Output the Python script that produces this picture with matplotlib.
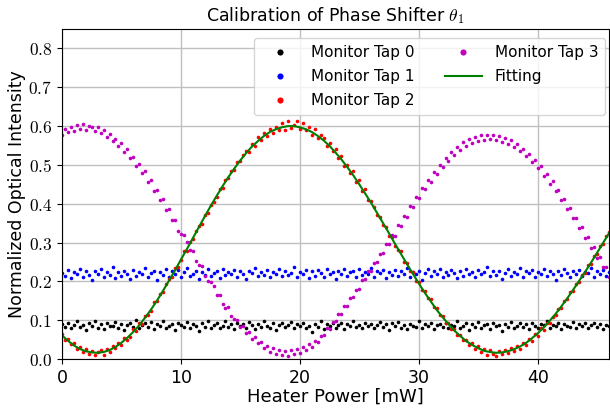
import numpy as np
import matplotlib
matplotlib.use("Agg")
import matplotlib.pyplot as plt
from matplotlib.ticker import FixedLocator, FuncFormatter

plt.rcParams['font.family'] = ['DejaVu Sans']
plt.rcParams['mathtext.fontset'] = 'cm'

# Heater power grid (mW)
heater_power = np.arange(0, 46.001, 0.25)
fit_power = np.arange(0, 46.001, 0.5)

tap0 = [
    0.091,0.083,0.094,0.079,0.087,0.097,0.082,0.088,0.076,0.092,
    0.085,0.099,0.081,0.089,0.077,0.093,0.086,0.084,0.096,0.080,
    0.090,0.075,0.088,0.094,0.083,0.101,0.079,0.087,0.092,0.082,
    0.095,0.078,0.089,0.084,0.098,0.081,0.086,0.091,0.076,0.093,
    0.087,0.082,0.096,0.080,0.090,0.085,0.072,0.092,0.083,0.097,
    0.079,0.088,0.094,0.081,0.086,0.099,0.082,0.089,0.077,0.093,
    0.084,0.090,0.080,0.095,0.087,0.078,0.091,0.083,0.098,0.085,
    0.081,0.092,0.076,0.088,0.094,0.082,0.087,0.096,0.079,0.090,
    0.084,0.093,0.080,0.086,0.070,0.091,0.083,0.097,0.078,0.089,
    0.085,0.094,0.081,0.087,0.092,0.077,0.090,0.084,0.099,0.082,
    0.088,0.079,0.093,0.085,0.091,0.080,0.087,0.096,0.083,0.089,
    0.076,0.092,0.084,0.095,0.081,0.088,0.078,0.091,0.086,0.083,
    0.097,0.080,0.089,0.085,0.093,0.077,0.087,0.090,0.082,0.094,
    0.079,0.088,0.084,0.098,0.081,0.086,0.092,0.075,0.089,0.083,
    0.095,0.080,0.087,0.091,0.078,0.093,0.084,0.088,0.071,0.090,
    0.082,0.096,0.079,0.086,0.092,0.083,0.089,0.077,0.094,0.085,
    0.081,0.090,0.087,0.097,0.080,0.088,0.084,0.093,0.078,0.091,
    0.086,0.082,0.095,0.079,0.089,0.085,0.092,0.081,0.087,0.094,
    0.083,0.090,0.078,0.088,0.085,
]

tap1 = [
    0.222,0.213,0.229,0.208,0.224,0.218,0.231,0.211,0.226,0.216,
    0.204,0.227,0.219,0.233,0.212,0.225,0.217,0.236,0.209,0.223,
    0.215,0.228,0.220,0.206,0.230,0.214,0.225,0.219,0.234,0.210,
    0.221,0.227,0.203,0.224,0.216,0.232,0.212,0.226,0.218,0.229,
    0.211,0.223,0.235,0.214,0.220,0.228,0.207,0.225,0.217,0.231,
    0.213,0.222,0.227,0.209,0.233,0.216,0.224,0.219,0.230,0.212,
    0.226,0.218,0.205,0.228,0.221,0.234,0.214,0.223,0.217,0.229,
    0.210,0.225,0.220,0.232,0.213,0.227,0.216,0.222,0.236,0.211,
    0.224,0.219,0.230,0.208,0.226,0.215,0.229,0.221,0.212,0.233,
    0.218,0.225,0.206,0.228,0.220,0.231,0.214,0.223,0.227,0.210,
    0.232,0.217,0.224,0.219,0.235,0.212,0.226,0.221,0.229,0.208,
    0.223,0.216,0.230,0.213,0.227,0.220,0.234,0.211,0.225,0.218,
    0.228,0.204,0.222,0.231,0.215,0.226,0.219,0.233,0.212,0.224,
    0.217,0.229,0.221,0.209,0.227,0.214,0.232,0.220,0.225,0.211,
    0.230,0.218,0.223,0.236,0.213,0.226,0.216,0.228,0.207,0.222,
    0.231,0.215,0.225,0.219,0.234,0.212,0.227,0.221,0.229,0.210,
    0.224,0.218,0.232,0.214,0.226,0.220,0.203,0.228,0.216,0.233,
    0.222,0.211,0.227,0.219,0.230,0.214,0.225,0.221,0.235,0.212,
    0.226,0.218,0.229,0.215,0.223,
]

tap2 = [
    0.064,0.050,0.052,0.038,0.041,0.027,0.030,0.019,0.025,0.013,
    0.021,0.010,0.019,0.024,0.011,0.026,0.019,0.033,0.028,0.041,
    0.036,0.053,0.049,0.058,0.077,0.072,0.093,0.091,0.112,0.113,
    0.124,0.146,0.149,0.168,0.172,0.194,0.205,0.211,0.234,0.238,
    0.254,0.277,0.279,0.302,0.308,0.329,0.343,0.349,0.371,0.376,
    0.398,0.405,0.418,0.437,0.441,0.462,0.466,0.484,0.487,0.507,
    0.509,0.526,0.537,0.532,0.555,0.549,0.571,0.563,0.581,0.574,
    0.593,0.581,0.597,0.589,0.609,0.590,0.612,0.596,0.604,0.614,
    0.592,0.607,0.590,0.598,0.578,0.592,0.570,0.576,0.569,0.548,
    0.557,0.535,0.541,0.517,0.522,0.498,0.501,0.479,0.485,0.457,
    0.462,0.433,0.438,0.409,0.406,0.392,0.372,0.367,0.344,0.340,
    0.317,0.315,0.292,0.281,0.277,0.251,0.247,0.226,0.224,0.200,
    0.198,0.178,0.176,0.156,0.154,0.133,0.132,0.113,0.111,0.094,
    0.093,0.077,0.078,0.061,0.063,0.048,0.050,0.036,0.041,0.027,
    0.033,0.018,0.026,0.011,0.022,0.014,0.009,0.021,0.012,0.024,
    0.016,0.029,0.020,0.033,0.027,0.041,0.036,0.052,0.047,0.064,
    0.060,0.079,0.074,0.093,0.094,0.109,0.113,0.130,0.132,0.150,
    0.154,0.172,0.174,0.193,0.199,0.216,0.221,0.241,0.246,0.265,
    0.270,0.292,0.296,0.316,0.327,
]

tap3 = [
    0.578,0.592,0.584,0.597,0.588,0.603,0.592,0.606,0.590,0.601,
    0.598,0.587,0.597,0.582,0.590,0.572,0.579,0.561,0.568,0.549,
    0.556,0.534,0.540,0.519,0.521,0.498,0.503,0.478,0.484,0.457,
    0.461,0.434,0.436,0.409,0.412,0.384,0.386,0.358,0.359,0.331,
    0.322,0.319,0.301,0.282,0.279,0.252,0.243,0.239,0.214,0.201,
    0.199,0.188,0.166,0.164,0.143,0.131,0.133,0.112,0.102,0.101,
    0.083,0.086,0.066,0.069,0.051,0.058,0.040,0.045,0.028,0.034,
    0.019,0.029,0.013,0.024,0.010,0.021,0.009,0.022,0.012,0.025,
    0.015,0.030,0.023,0.038,0.031,0.047,0.043,0.060,0.061,0.080,
    0.078,0.096,0.097,0.116,0.115,0.136,0.137,0.157,0.159,0.179,
    0.181,0.203,0.205,0.226,0.228,0.248,0.251,0.270,0.272,0.295,
    0.296,0.319,0.318,0.344,0.342,0.368,0.366,0.394,0.391,0.418,
    0.414,0.441,0.437,0.462,0.457,0.481,0.476,0.500,0.494,0.517,
    0.511,0.533,0.526,0.546,0.539,0.558,0.548,0.566,0.556,0.573,
    0.561,0.576,0.565,0.578,0.566,0.577,0.563,0.575,0.559,0.570,
    0.553,0.563,0.546,0.554,0.535,0.542,0.522,0.529,0.507,0.513,
    0.491,0.496,0.471,0.477,0.452,0.458,0.432,0.436,0.410,0.413,
    0.386,0.389,0.362,0.364,0.337,0.339,0.312,0.314,0.286,0.288,
    0.261,0.262,0.236,0.237,0.212,
]

fitting = [
    0.061,0.047,0.035,0.026,0.020,0.017,0.016,0.018,0.023,0.031,
    0.042,0.055,0.070,0.087,0.107,0.128,0.151,0.176,0.202,0.228,
    0.256,0.283,0.311,0.339,0.367,0.394,0.420,0.445,0.469,0.491,
    0.512,0.531,0.548,0.562,0.575,0.585,0.592,0.597,0.600,0.600,
    0.597,0.592,0.585,0.575,0.563,0.549,0.532,0.514,0.494,0.473,
    0.450,0.426,0.402,0.376,0.350,0.324,0.297,0.271,0.245,0.220,
    0.195,0.171,0.149,0.127,0.108,0.090,0.073,0.059,0.046,0.036,
    0.028,0.021,0.018,0.016,0.017,0.020,0.025,0.032,0.041,0.053,
    0.066,0.081,0.098,0.116,0.136,0.157,0.179,0.202,0.225,0.249,
    0.274,0.299,0.324,
]

x_ticks = [0, 10, 20, 30, 40]
y_ticks = [0.0, 0.1, 0.2, 0.3, 0.4, 0.5, 0.6, 0.7, 0.8]

fig = plt.figure(figsize=(6.10, 4.09), dpi=100)
ax = fig.add_axes([0.1016, 0.1222, 0.8968, 0.8068])

ms = 2.6
ax.plot(heater_power, tap0, 'o', color='k', ms=ms, mew=0, label='Monitor Tap 0')
ax.plot(heater_power, tap1, 'o', color='b', ms=ms, mew=0, label='Monitor Tap 1')
ax.plot(heater_power, tap2, 'o', color='r', ms=ms, mew=0, label='Monitor Tap 2')
ax.plot(heater_power, tap3, 'o', color='m', ms=ms, mew=0, label='Monitor Tap 3')
ax.plot(fit_power, fitting, '-', color='g', lw=1.5, label='Fitting')

ax.set_xlim(0, 46)
ax.set_ylim(0, 0.85)
ax.xaxis.set_major_locator(FixedLocator(x_ticks))
ax.yaxis.set_major_locator(FixedLocator(y_ticks))
ax.yaxis.set_major_formatter(FuncFormatter(lambda v, p: r'$%.1f$' % v))
ax.tick_params(axis='both', labelsize=12.5, length=3.5)
ax.grid(True, color='#c0c0c0', lw=1.0)
ax.set_axisbelow(True)

ax.set_title(r'Calibration of Phase Shifter $\theta_1$', fontsize=12.5)
ax.set_xlabel('Heater Power [mW]', fontsize=13, labelpad=1)
ax.set_ylabel('Normalized Optical Intensity', fontsize=12.5, labelpad=1.5)

leg = ax.legend(ncol=2, loc='upper right', bbox_to_anchor=(0.9927, 0.9727),
                borderaxespad=0, fontsize=11, markerscale=1.7,
                handlelength=2.4, handletextpad=0.85, borderpad=0.45,
                columnspacing=2.0, labelspacing=0.6, framealpha=0.8)

fig.savefig('out.png', dpi=100)
